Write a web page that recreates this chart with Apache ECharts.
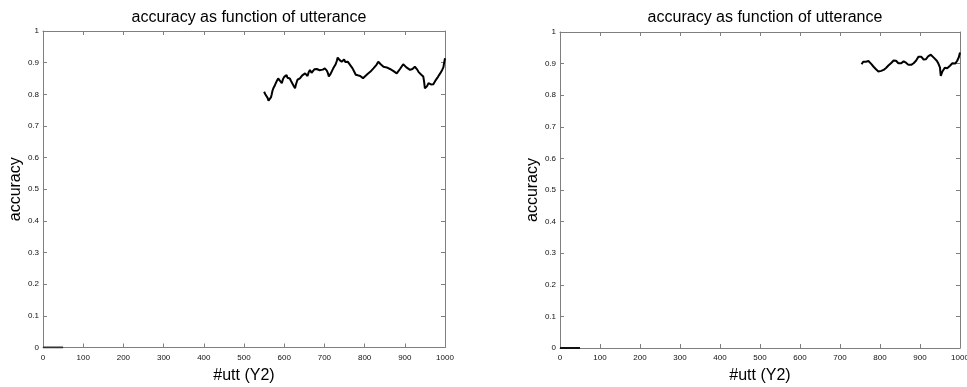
<!DOCTYPE html>
<html>
<head>
<meta charset="utf-8">
<script src="https://cdn.jsdelivr.net/npm/echarts@6/dist/echarts.min.js"></script>
<style>
html,body{margin:0;padding:0;background:#fff;}
#chart{width:967px;height:387px;}
</style>
</head>
<body>
<div id="chart"></div>
<script>
// ---- data ----
var xTicks = [0,100,200,300,400,500,600,700,800,900,1000];
var yTicks = [0,0.1,0.2,0.3,0.4,0.5,0.6,0.7,0.8,0.9,1];

var startUtt = [0, 50];
var startAcc = [0, 0];

var leftUtt = [550,553,556,559,561,563,565,567,569,571,573,576,579,582,585,588,590,592,594,597,600,603,606,608,610,612,614,617,620,623,627,629,631,633,635,637,639,642,645,648,652,655,658,661,664,666,668,670,672,675,678,681,685,688,692,696,701,704,706,709,711,714,716,719,722,725,728,731,733,736,738,741,743,746,749,752,755,758,760,762,764,766,768,770,772,774,776,778,780,783,786,789,793,796,799,802,805,808,811,814,818,822,826,830,834,837,840,843,847,851,855,859,863,867,871,875,880,884,888,892,896,900,904,908,913,916,919,922,925,928,931,934,938,941,943,945,946,948,950,952,955,957,959,961,963,965,967,969,971,974,977,980,983,986,988,990,993,995,996,997,998,1000];
var leftAcc = [0.808,0.800,0.795,0.788,0.780,0.784,0.777,0.790,0.800,0.812,0.819,0.826,0.835,0.843,0.850,0.846,0.842,0.838,0.835,0.848,0.855,0.858,0.861,0.852,0.848,0.856,0.850,0.842,0.835,0.828,0.819,0.830,0.838,0.846,0.852,0.845,0.850,0.856,0.860,0.855,0.866,0.862,0.858,0.870,0.877,0.872,0.868,0.874,0.871,0.879,0.875,0.880,0.882,0.876,0.870,0.878,0.882,0.880,0.875,0.866,0.856,0.860,0.866,0.874,0.882,0.888,0.895,0.906,0.916,0.912,0.908,0.904,0.903,0.898,0.910,0.902,0.898,0.903,0.900,0.896,0.893,0.889,0.885,0.882,0.877,0.872,0.868,0.862,0.856,0.860,0.862,0.858,0.856,0.851,0.852,0.858,0.861,0.865,0.866,0.871,0.877,0.882,0.888,0.894,0.903,0.899,0.895,0.892,0.887,0.884,0.885,0.882,0.880,0.877,0.874,0.870,0.866,0.872,0.880,0.886,0.895,0.889,0.885,0.879,0.877,0.882,0.880,0.884,0.887,0.884,0.878,0.871,0.866,0.862,0.860,0.858,0.856,0.840,0.819,0.822,0.825,0.830,0.835,0.838,0.835,0.831,0.830,0.828,0.832,0.838,0.845,0.850,0.856,0.861,0.866,0.870,0.877,0.882,0.885,0.893,0.900,0.914];

var rightUtt = [754,756,758,760,762,765,767,769,771,773,775,778,781,784,787,790,793,796,800,803,806,809,812,815,818,821,825,828,831,834,837,840,843,846,850,853,856,859,862,865,868,871,875,878,881,884,887,890,893,896,900,903,906,909,912,915,918,921,924,927,929,932,935,938,942,944,946,948,950,951,952,954,956,959,962,965,968,971,975,977,979,981,983,986,988,991,993,995,997,1000];
var rightAcc = [0.898,0.903,0.906,0.902,0.910,0.906,0.905,0.909,0.908,0.904,0.903,0.899,0.895,0.890,0.887,0.882,0.878,0.875,0.872,0.877,0.877,0.880,0.882,0.886,0.890,0.894,0.898,0.902,0.905,0.910,0.914,0.909,0.905,0.901,0.898,0.901,0.903,0.907,0.906,0.903,0.900,0.896,0.893,0.896,0.898,0.901,0.903,0.909,0.915,0.922,0.928,0.922,0.918,0.913,0.909,0.914,0.920,0.924,0.925,0.928,0.928,0.922,0.918,0.913,0.909,0.904,0.900,0.894,0.887,0.872,0.861,0.866,0.875,0.881,0.887,0.885,0.885,0.889,0.893,0.896,0.898,0.901,0.903,0.900,0.900,0.905,0.909,0.913,0.920,0.935];

var titleText = 'accuracy as function of utterance';
var xName = '#utt (Y2)';
var yName = 'accuracy';

function pairs(xs, ys){ return xs.map(function(x,i){ return [x, ys[i]]; }); }

var FONT = 'Liberation Sans, Arial, Helvetica, sans-serif';
var axisCol = '#7f7f7f';

function xAx(gi, top){
  return {
    type:'value', gridIndex:gi, min:0, max:1000, interval:100,
    position: top ? 'top' : 'bottom',
    axisLine:{show:true, onZero:false, lineStyle:{color:axisCol, width:1}},
    axisTick:{show:true, inside:true, length:4, lineStyle:{color:axisCol}},
    axisLabel:{show:!top, fontSize:8, color:'#111', fontFamily:FONT, margin:6,
      formatter:function(v){ return String(Math.round(v)); }},
    splitLine:{show:false},
    name: top ? '' : xName, nameLocation:'middle', nameGap:20,
    nameTextStyle:{fontSize:16, color:'#000', fontFamily:FONT}
  };
}
function yAx(gi, right){
  return {
    type:'value', gridIndex:gi, min:0, max:1, interval:0.1,
    position: right ? 'right' : 'left',
    axisLine:{show:true, onZero:false, lineStyle:{color:axisCol, width:1}},
    axisTick:{show:true, inside:true, length:4, lineStyle:{color:axisCol}},
    axisLabel:{show:!right, fontSize:8, color:'#111', fontFamily:FONT, margin:4,
      formatter:function(v){ return (Math.round(v*10)/10).toString(); }},
    splitLine:{show:false},
    name: right ? '' : yName, nameLocation:'middle', nameGap:19, nameRotate:90,
    nameTextStyle:{fontSize:16, color:'#000', fontFamily:FONT}
  };
}

function lineSeries(xi, yi, data, col, w){
  return {type:'line', xAxisIndex:xi, yAxisIndex:yi, data:data, showSymbol:false,
    symbol:'none', lineStyle:{color:col, width:w}, animation:false, silent:true};
}

var option = {
  backgroundColor:'#fff',
  animation:false,
  title:[
    {text:titleText, left:244, top:5, textAlign:'center',
     textStyle:{fontSize:16, fontWeight:'normal', color:'#000', fontFamily:FONT}},
    {text:titleText, left:760, top:5, textAlign:'center',
     textStyle:{fontSize:16, fontWeight:'normal', color:'#000', fontFamily:FONT}}
  ],
  grid:[
    {left:43, top:31, width:402, height:316.5, outerBoundsMode:'none', containLabel:false},
    {left:560, top:32, width:400, height:316, outerBoundsMode:'none', containLabel:false}
  ],
  xAxis:[xAx(0,false), xAx(0,true), xAx(1,false), xAx(1,true)],
  yAxis:[yAx(0,false), yAx(0,true), yAx(1,false), yAx(1,true)],
  series:[
    lineSeries(0,0,pairs(startUtt,startAcc),'#333',2),
    lineSeries(0,0,pairs(leftUtt,leftAcc),'#000',2),
    lineSeries(2,2,pairs(startUtt,startAcc),'#111',2),
    lineSeries(2,2,pairs(rightUtt,rightAcc),'#000',2)
  ]
};

var chart = echarts.init(document.getElementById('chart'), null, {renderer:'canvas'});
chart.setOption(option);
</script>
</body>
</html>
